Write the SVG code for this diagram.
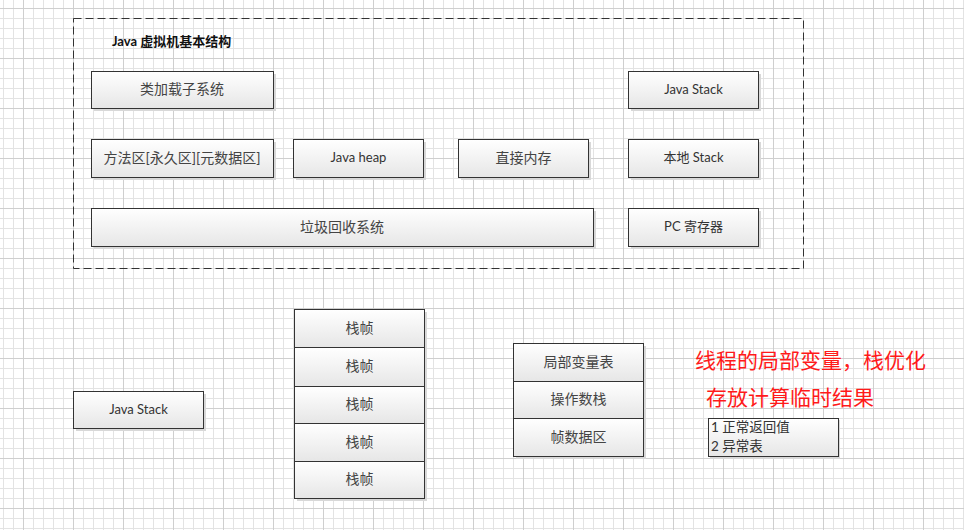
<svg xmlns="http://www.w3.org/2000/svg" width="964" height="530" viewBox="0 0 964 530">
<style>
.box{fill:url(#g);stroke:#333;stroke-width:1}
.sh{fill:#d8d8d8}
.t{font-family:Lato,"Noto Sans CJK SC",sans-serif;font-size:13px;fill:#333;text-anchor:middle;dominant-baseline:central}
.c{font-size:14px;fill:#444}
.red{font-family:"Noto Sans CJK SC",sans-serif;font-size:21px;fill:#ff1a1a}
.small{font-family:Lato,"Noto Sans CJK SC",sans-serif;font-size:13.5px;fill:#333}
</style>
<defs>
<linearGradient id="g" x1="0" y1="0" x2="0" y2="1">
<stop offset="0" stop-color="#ffffff"/>
<stop offset="1" stop-color="#e6e6e6"/>
</linearGradient>
<pattern id="grid" patternUnits="userSpaceOnUse" x="23" y="8" width="50" height="50">
<rect width="50" height="50" fill="#fff"/>
<path d="M10.5 0V50M20.5 0V50M30.5 0V50M40.5 0V50M0 10.5H50M0 20.5H50M0 30.5H50M0 40.5H50" stroke="#e3e3e3" stroke-width="1"/>
<path d="M0.5 0V50M0 0.5H50" stroke="#cfcfcf" stroke-width="1"/>
</pattern>
</defs>
<rect width="964" height="530" fill="url(#grid)"/>
<rect x="73.5" y="18.5" width="730" height="250" fill="none" stroke="#333" stroke-width="1" stroke-dasharray="8 4"/>
<text x="112" y="46" style="font-family:Lato,'Noto Sans CJK SC',sans-serif;font-size:13px;font-weight:bold;fill:#111">Java 虚拟机基本结构</text>

<g id="n-classloader"><rect class="sh" x="94" y="74" width="182" height="37"/><rect class="box" x="91.5" y="71.5" width="182" height="37"/><text class="t c" x="182" y="88.5">类加载子系统</text></g>
<g id="n-javastack1"><rect class="sh" x="631" y="74" width="130" height="37"/><rect class="box" x="628.5" y="71.5" width="130" height="37"/><text class="t" x="693.5" y="88.5">Java Stack</text></g>
<g id="n-method"><rect class="sh" x="94" y="142" width="182" height="38"/><rect class="box" x="91.5" y="139.5" width="182" height="38"/><text class="t c" x="182" y="157">方法区[永久区][元数据区]</text></g>
<g id="n-heap"><rect class="sh" x="296" y="142" width="130" height="38"/><rect class="box" x="293.5" y="139.5" width="130" height="38"/><text class="t" x="358.5" y="157">Java heap</text></g>
<g id="n-direct"><rect class="sh" x="461" y="142" width="130" height="38"/><rect class="box" x="458.5" y="139.5" width="130" height="38"/><text class="t c" x="523.5" y="157">直接内存</text></g>
<g id="n-native"><rect class="sh" x="631" y="142" width="130" height="38"/><rect class="box" x="628.5" y="139.5" width="130" height="38"/><text class="t" x="693.5" y="157">本地 Stack</text></g>
<g id="n-gc"><rect class="sh" x="94" y="211" width="502" height="38"/><rect class="box" x="91.5" y="208.5" width="502" height="38"/><text class="t c" x="342" y="226">垃圾回收系统</text></g>
<g id="n-pc"><rect class="sh" x="631" y="211" width="130" height="38"/><rect class="box" x="628.5" y="208.5" width="130" height="38"/><text class="t" x="693.5" y="226">PC 寄存器</text></g>

<g id="n-javastack2"><rect class="sh" x="76" y="394" width="130" height="37"/><rect class="box" x="73.5" y="391.5" width="130" height="37"/><text class="t" x="138.5" y="408.5">Java Stack</text></g>

<g id="n-frames">
<rect class="sh" x="297" y="312" width="130" height="189"/>
<rect class="box" x="294.5" y="309.5" width="130" height="38"/><text class="t c" x="359.5" y="327">栈帧</text>
<rect class="box" x="294.5" y="347.5" width="130" height="39"/><text class="t c" x="359.5" y="365.5">栈帧</text>
<rect class="box" x="294.5" y="386.5" width="130" height="37"/><text class="t c" x="359.5" y="403.5">栈帧</text>
<rect class="box" x="294.5" y="423.5" width="130" height="38"/><text class="t c" x="359.5" y="441">栈帧</text>
<rect class="box" x="294.5" y="461.5" width="130" height="37"/><text class="t c" x="359.5" y="478.5">栈帧</text>
</g>

<g id="n-frame-detail">
<rect class="sh" x="516" y="346" width="130" height="113"/>
<rect class="box" x="513.5" y="343.5" width="130" height="38"/><text class="t c" x="578.5" y="361">局部变量表</text>
<rect class="box" x="513.5" y="381.5" width="130" height="37"/><text class="t c" x="578.5" y="398.5">操作数栈</text>
<rect class="box" x="513.5" y="418.5" width="130" height="38"/><text class="t c" x="578.5" y="436">帧数据区</text>
</g>

<g id="n-note">
<text class="red" x="695" y="368">线程的局部变量，栈优化</text>
<text class="red" x="706" y="405">存放计算临时结果</text>
</g>
<g id="n-return">
<rect class="sh" x="710" y="420" width="130" height="39"/>
<rect class="box" x="708.5" y="418.5" width="130" height="38"/>
<text class="small" x="711" y="432">1 正常返回值</text>
<text class="small" x="711" y="450.5">2 异常表</text>
</g>
<g id="connectors"></g>
</svg>
